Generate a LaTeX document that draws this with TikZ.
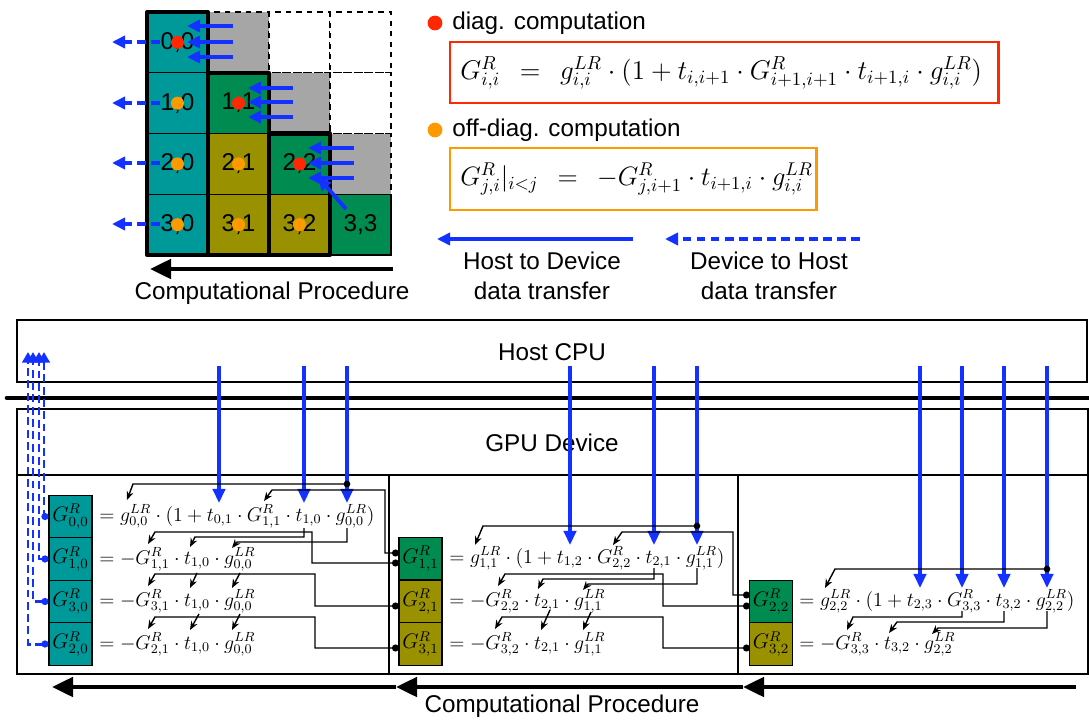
\documentclass[tikz,border=0pt]{standalone}
\usepackage{graphicx}
\usepackage{fontspec}
\newfontfamily\arial{Liberation Sans}
\usetikzlibrary{arrows.meta}
\definecolor{tealc}{RGB}{0,153,153}
\definecolor{greenc}{RGB}{0,140,80}
\definecolor{olivec}{RGB}{153,145,0}
\definecolor{grayc}{RGB}{166,166,166}
\definecolor{hblue}{RGB}{20,50,255}
\definecolor{redc}{RGB}{255,40,0}
\definecolor{orangec}{RGB}{255,153,0}
\newcommand{\rowscale}[1]{\scalebox{0.943}{$#1$}}
\tikzset{
  txt/.style={font=\arial\fontsize{13.8}{17}\selectfont, inner sep=0pt},
  rowf/.style={anchor=base west, inner sep=0pt, font=\fontsize{12}{14}\selectfont},
  blk/.style={draw=black, line width=0.6pt, minimum width=0.86cm, minimum height=0.85cm, inner sep=0pt, font=\fontsize{12}{14}\selectfont},
  hbarrow/.style={hblue, line width=2pt, -{Triangle[length=8pt,width=7pt]}},
  garrow/.style={hblue, line width=2.2pt, -{Triangle[length=7.5pt,width=7pt]}},
  dhb/.style={hblue, line width=1.7pt, dash pattern=on 4.5pt off 2.5pt, {Circle[length=4pt]}-{Triangle[length=6pt,width=6.5pt]}},
  ldash/.style={hblue, line width=2.2pt, dash pattern=on 5pt off 3pt, -{Triangle[length=7.5pt,width=7pt]}},
  conn/.style={line width=0.8pt, -{Stealth[length=5pt,width=4pt]}},
  dconn/.style={line width=0.8pt, {Circle[length=4pt]}-{Stealth[length=5pt,width=4pt]}},
  bigarrow/.style={line width=2.3pt, -{Triangle[length=12pt,width=11pt]}},
}
\begin{document}
\begin{tikzpicture}[x=0.02cm,y=-0.02cm]
\useasboundingbox (0,0) rectangle (1089,720);

% ---------- top-left grid ----------
\foreach \c/\r/\f in {1/0/grayc,2/0/white,3/0/white,2/1/grayc,3/1/white,3/2/grayc}
  \draw[dashed, line width=0.6pt, fill=\f] ({147+61*\c},{12+60.75*\r}) rectangle ({147+61*(\c+1)},{12+60.75*(\r+1)});
\foreach \c/\r/\f in {0/0/tealc,0/1/tealc,0/2/tealc,0/3/tealc,1/1/greenc,1/2/olivec,1/3/olivec,2/2/greenc,2/3/olivec,3/3/greenc}
  \draw[line width=0.6pt, fill=\f] ({147+61*\c},{12+60.75*\r}) rectangle ({147+61*(\c+1)},{12+60.75*(\r+1)});
\draw[line width=2.3pt, line join=round] (147,12) rectangle (208,255);
\draw[line width=2.3pt, line join=round] (208,72.75) rectangle (269,255);
\draw[line width=2.3pt, line join=round] (269,133.5) rectangle (330,255);
\foreach \c/\r in {0/0,0/1,0/2,0/3,1/1,1/2,1/3,2/2,2/3,3/3}
  \node[txt] (cell\r\c) at ({177.5+61*\c},{42.4+60.75*\r}) {\r,\c};
\foreach \c/\r in {0/0,1/1,2/2}
  \fill[redc] ({177.5+61*\c},{42.4+60.75*\r}) circle (3.7pt);
\foreach \c/\r in {0/1,0/2,0/3,1/2,1/3,2/3}
  \fill[orangec] ({177.5+61*\c},{42.4+60.75*\r}) circle (3.7pt);
% host-to-device arrows in grid
\foreach \y in {26,42,57} \draw[garrow] (233,\y) -- (187,\y);
\foreach \y in {88,102,117} \draw[garrow] (293,\y) -- (248,\y);
\foreach \y in {148,163,178} \draw[garrow] (354,\y) -- (308,\y);
\draw[garrow] (346,209) -- (318,177);
% device-to-host arrows
\foreach \y in {42,103,163,224} \draw[ldash] (160,\y) -- (112,\y);
\draw[bigarrow] (393,269) -- (150,269);
\node[txt] (cp1) at (272,293) {Computational Procedure};

% ---------- legend ----------
\fill[redc] (435,23) circle (4.2pt);
\node[txt, anchor=west] (ldiag) at (452,23) {diag. computation};
\draw[redc, line width=1.7pt] (450,42) rectangle (998,103);
\node[anchor=west, inner sep=0pt, font=\fontsize{14.4}{16}\selectfont] (rform) at (460,73)
  {\scalebox{1.07}{$G^R_{i,i}\;\,=\;\,g^{LR}_{i,i}\cdot(1+t_{i,i+1}\cdot G^R_{i+1,i+1}\cdot t_{i+1,i}\cdot g^{LR}_{i,i})$}};
\fill[orangec] (435,130) circle (4.2pt);
\node[txt, anchor=west] (loff) at (452,130) {off-diag. computation};
\draw[orangec, line width=1.7pt] (450,148) rectangle (816,210);
\node[anchor=west, inner sep=0pt, font=\fontsize{14.4}{16}\selectfont] (oform) at (460,179)
  {\scalebox{1.05}{$G^R_{j,i}|_{i<j}\;\,=\;\,-G^R_{j,i+1}\cdot t_{i+1,i}\cdot g^{LR}_{i,i}$}};
\coordinate (h2da) at (633,239); \coordinate (h2db) at (437,239);
\draw[garrow] (h2da) -- (h2db);
\coordinate (d2ha) at (860,239); \coordinate (d2hb) at (665,239);
\draw[ldash] (d2ha) -- (d2hb);
\node[txt, align=center] (lh2d) at (542,276) {Host to Device\\data transfer};
\node[txt, align=center] (ld2h) at (769,276) {Device to Host\\data transfer};

% ---------- bottom frames ----------
\draw[line width=0.7pt] (17,320) rectangle (1087,382);
\node[txt] (hostlbl) at (552,352) {Host CPU};
\draw[line width=2.6pt, line cap=round] (7,398) -- (1089,398);
\draw[line width=0.7pt] (17,409) rectangle (1088,674);
\node[txt] (gpulbl) at (552,443) {GPU Device};
\draw[line width=0.7pt] (17,475) -- (1088,475);
\draw[line width=0.7pt] (389,475) -- (389,674);
\draw[line width=0.7pt] (738,475) -- (738,674);

% ---------- blocks ----------
\node[blk, fill=tealc] (G00) at (70.5,516.5) {$G^R_{0,0}$};
\node[blk, fill=tealc] (G10) at (70.5,559) {$G^R_{1,0}$};
\node[blk, fill=tealc] (G30) at (70.5,601.5) {$G^R_{3,0}$};
\node[blk, fill=tealc] (G20) at (70.5,644) {$G^R_{2,0}$};
\node[blk, fill=greenc] (G11) at (420.5,558.5) {$G^R_{1,1}$};
\node[blk, fill=olivec] (G21) at (420.5,601.5) {$G^R_{2,1}$};
\node[blk, fill=olivec] (G31) at (420.5,644) {$G^R_{3,1}$};
\node[blk, fill=greenc] (G22) at (771,601.5) {$G^R_{2,2}$};
\node[blk, fill=olivec] (G32) at (771,644) {$G^R_{3,2}$};

% ---------- formulas ----------
\node[rowf] (f00) at (99,521) {\rowscale{=g^{LR}_{0,0}\cdot(1+t_{0,1}\cdot G^R_{1,1}\cdot t_{1,0}\cdot g^{LR}_{0,0})}};
\node[rowf] (f10) at (99,564) {\rowscale{=-G^R_{1,1}\cdot t_{1,0}\cdot g^{LR}_{0,0}}};
\node[rowf] (f30) at (99,606) {\rowscale{=-G^R_{3,1}\cdot t_{1,0}\cdot g^{LR}_{0,0}}};
\node[rowf] (f20) at (99,649) {\rowscale{=-G^R_{2,1}\cdot t_{1,0}\cdot g^{LR}_{0,0}}};
\node[rowf] (f11) at (449,563) {\rowscale{=g^{LR}_{1,1}\cdot(1+t_{1,2}\cdot G^R_{2,2}\cdot t_{2,1}\cdot g^{LR}_{1,1})}};
\node[rowf] (f21) at (449,606) {\rowscale{=-G^R_{2,2}\cdot t_{2,1}\cdot g^{LR}_{1,1}}};
\node[rowf] (f31) at (449,649) {\rowscale{=-G^R_{3,2}\cdot t_{2,1}\cdot g^{LR}_{1,1}}};
\node[rowf] (f22) at (799,606) {\rowscale{=g^{LR}_{2,2}\cdot(1+t_{2,3}\cdot G^R_{3,3}\cdot t_{3,2}\cdot g^{LR}_{2,2})}};
\node[rowf] (f32) at (799,649) {\rowscale{=-G^R_{3,3}\cdot t_{3,2}\cdot g^{LR}_{2,2}}};

% ---------- host to device arrows ----------
\foreach \x in {219,304,347} \draw[hbarrow] (\x,366) -- (\x,503);
\foreach \x in {570,654,697} \draw[hbarrow] (\x,366) -- (\x,545);
\foreach \x in {920,962,1004,1047} \draw[hbarrow] (\x,366) -- (\x,588);

% ---------- device to host (dashed) ----------
\draw[dhb] (G00.west) -| (44,352);
\draw[dhb] (G10.west) -| (39,352);
\draw[dhb] (G30.west) -| (33,352);
\draw[dhb] (G20.west) -| (28,352);

% ---------- connectors panel 1 ----------
\fill (347,484) circle (1.9pt);
\draw[conn] (347,484) -- (133,484) -- (127,500);
\draw[dconn] (399,553) -- (385,553) -- (385,490) -- (272,490) -- (264,501);
\draw[dconn] (399,563) -- (312,563) -- (312,532) -- (155,532) -- (148,544);
\draw[conn] (304,528) -- (304,537) -- (195,537) -- (190,547);
\draw[conn] (347,528) -- (347,542) -- (237,542) -- (232,548);
\draw[dconn] (399,606) -- (315,606) -- (315,574) -- (155,574) -- (148,586);
\draw[conn] (197,573) -- (190,588);
\draw[conn] (240,573) -- (232,588);
\draw[dconn] (399,648) -- (315,648) -- (315,617) -- (155,617) -- (148,629);
\draw[conn] (199,614) -- (190,630);
\draw[conn] (240,614) -- (232,630);

% ---------- connectors panel 2 ----------
\fill (697,526) circle (1.9pt);
\draw[conn] (697,526) -- (483,526) -- (475,545);
\draw[dconn] (750,595) -- (733,595) -- (733,532) -- (622,532) -- (613,545);
\draw[dconn] (750,606) -- (663,606) -- (663,574) -- (505,574) -- (498,586);
\draw[conn] (654,568) -- (654,579) -- (543,579) -- (538,589);
\draw[conn] (697,568) -- (697,584) -- (588,584) -- (583,590);
\draw[dconn] (750,648) -- (663,648) -- (663,617) -- (502,617) -- (495,629);
\draw[conn] (550,610) -- (541,630);
\draw[conn] (591,612) -- (583,630);

% ---------- connectors panel 3 ----------
\fill (1047,569) circle (1.9pt);
\draw[conn] (1047,569) -- (835,569) -- (825,588);
\draw[conn] (962,611) -- (962,617) -- (853,617) -- (847,630);
\draw[conn] (1004,611) -- (1004,622) -- (897,622) -- (889,633);
\draw[conn] (1047,611) -- (1047,628) -- (938,628) -- (932,634);

% ---------- bottom procedure arrow ----------
\coordinate (pa) at (1076,687); \coordinate (pb) at (743,687);
\coordinate (pc) at (396,687); \coordinate (pd) at (52,687);
\draw[bigarrow] (pa) -- (pb);
\draw[bigarrow] (pb) -- (pc);
\draw[bigarrow] (pc) -- (pd);
\node[txt] (cp2) at (562,706) {Computational Procedure};
\end{tikzpicture}
\end{document}
